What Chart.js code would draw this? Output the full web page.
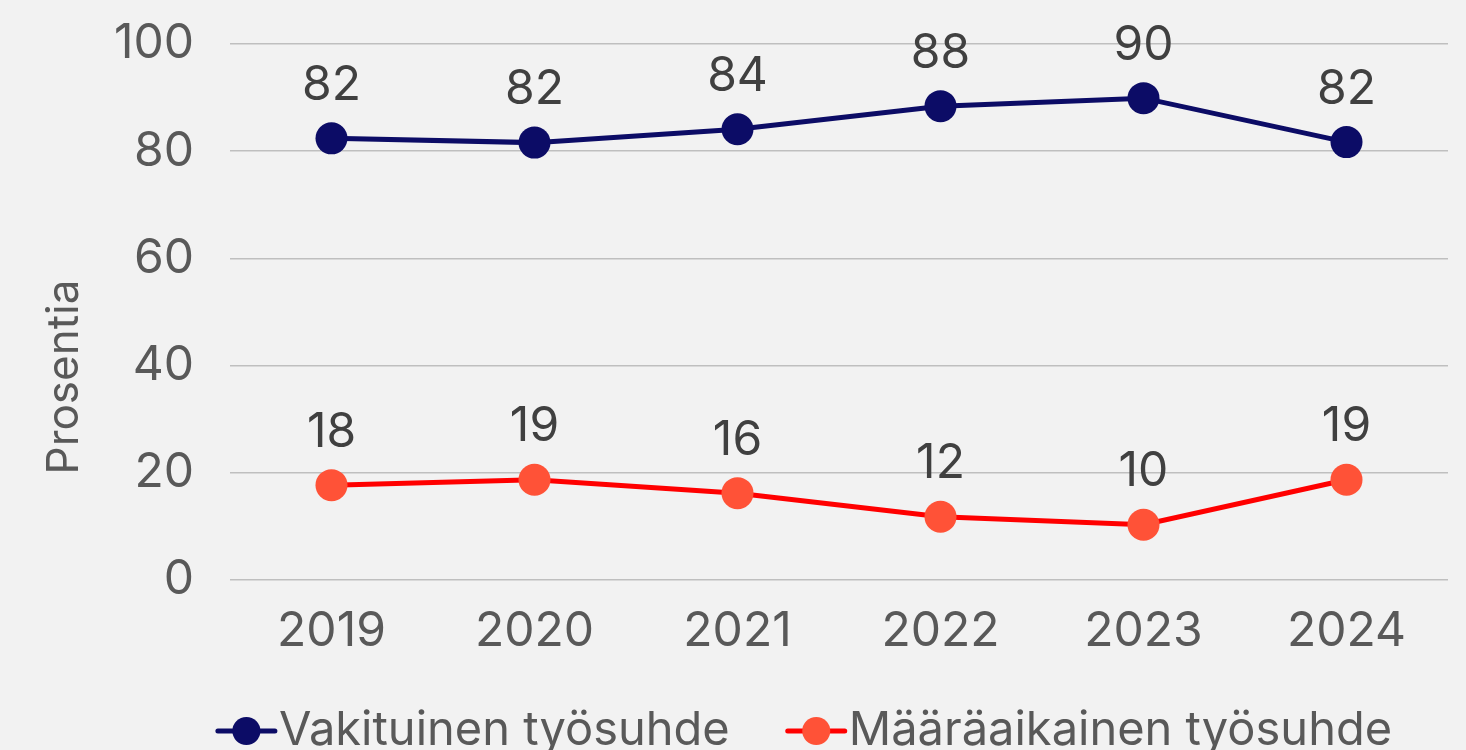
<!DOCTYPE html>
<html>
<head>
<meta charset="utf-8">
<script src="https://cdn.jsdelivr.net/npm/chart.js@4.4.1/dist/chart.umd.min.js"></script>
<style>
  body { margin: 0; background: #f2f2f2; overflow: hidden; }
  canvas { display: block; }
</style>
</head>
<body>
<canvas id="chart" width="1466" height="750"></canvas>
<script>
const years = ["2019", "2020", "2021", "2022", "2023", "2024"];
const vakituinen = [82.4, 81.6, 84.1, 88.4, 89.9, 81.7];
const maaraaikainen = [17.7, 18.7, 16.2, 11.8, 10.3, 18.7];
const yTicks = [0, 20, 40, 60, 80, 100];
const seriesNames = ["Vakituinen työsuhde", "Määräaikainen työsuhde"];
const yTitle = "Prosentia";

const FONT = "Inter, 'DejaVu Sans', sans-serif";
const TEXT = "#595959";

// value labels above each point
const valueLabels = {
    id: "valueLabels",
    afterDatasetsDraw(chart) {
        const ctx = chart.ctx;
        ctx.save();
        ctx.font = "48px " + FONT;
        ctx.fillStyle = "#404040";
        ctx.textAlign = "center";
        ctx.textBaseline = "middle";
        chart.data.datasets.forEach((ds, i) => {
            chart.getDatasetMeta(i).data.forEach((pt, j) => {
                ctx.fillText(Math.round(ds.data[j]), pt.x, pt.y - 53);
            });
        });
        ctx.restore();
    }
};

// rotated y title + legend with line marker
const extras = {
    id: "extras",
    afterDraw(chart) {
        const ctx = chart.ctx;
        ctx.save();
        ctx.fillStyle = TEXT;
        ctx.font = "44px " + FONT;
        ctx.translate(65, 377);
        ctx.rotate(-Math.PI / 2);
        ctx.textAlign = "center";
        ctx.textBaseline = "middle";
        ctx.fillText(yTitle, 0, 0);
        ctx.restore();

        ctx.save();
        ctx.font = "47px " + FONT;
        ctx.textBaseline = "middle";
        const markerW = 57, gapText = 4, gapItem = 58;
        const items = chart.data.datasets.map(ds => ({
            ds, w: markerW + gapText + ctx.measureText(ds.label).width
        }));
        const total = items.reduce((s, it) => s + it.w, 0) + gapItem * (items.length - 1);
        let x = 805 - total / 2;
        const y = 731;
        items.forEach(it => {
            ctx.strokeStyle = it.ds.borderColor;
            ctx.lineWidth = 5;
            ctx.lineCap = "round";
            ctx.beginPath();
            ctx.moveTo(x, y);
            ctx.lineTo(x + markerW, y);
            ctx.stroke();
            ctx.fillStyle = it.ds.pointBackgroundColor;
            ctx.beginPath();
            ctx.arc(x + markerW / 2, y, 14, 0, Math.PI * 2);
            ctx.fill();
            ctx.fillStyle = TEXT;
            ctx.textAlign = "left";
            ctx.fillText(it.ds.label, x + markerW + gapText, y);
            x += it.w + gapItem;
        });
        ctx.restore();
    }
};

new Chart(document.getElementById("chart"), {
    type: "line",
    data: {
        labels: years,
        datasets: [
            {
                label: seriesNames[0],
                data: vakituinen,
                borderColor: "#0c0c66",
                backgroundColor: "#0c0c66",
                pointBackgroundColor: "#0c0c66",
                pointBorderWidth: 0,
                pointRadius: 16,
                borderWidth: 5,
                tension: 0
            },
            {
                label: seriesNames[1],
                data: maaraaikainen,
                borderColor: "#ff0000",
                backgroundColor: "#ff5237",
                pointBackgroundColor: "#ff5237",
                pointBorderWidth: 0,
                pointRadius: 16,
                borderWidth: 5,
                tension: 0
            }
        ]
    },
    options: {
        responsive: false,
        animation: false,
        layout: { padding: { top: 44, right: 18, left: 0, bottom: 0 } },
        plugins: {
            legend: { display: false },
            tooltip: { enabled: false }
        },
        scales: {
            x: {
                offset: true,
                grid: { display: false },
                border: { display: false },
                ticks: {
                    color: TEXT,
                    font: { family: FONT, size: 48 },
                    padding: 15,
                    maxRotation: 0
                },
                afterFit(scale) {
                    scale.height = 170;
                    scale.paddingLeft = 0;
                    scale.paddingRight = 0;
                }
            },
            y: {
                min: 0,
                max: 100,
                afterBuildTicks(scale) { scale.ticks = yTicks.map(v => ({ value: v })); },
                grid: { color: "#bfbfbf", lineWidth: 1.5, drawTicks: false },
                border: { display: false },
                ticks: {
                    color: TEXT,
                    font: { family: FONT, size: 48 },
                    padding: 36
                },
                afterFit(scale) {
                    scale.width = 230;
                    scale.paddingTop = 0;
                    scale.paddingBottom = 0;
                }
            }
        }
    },
    plugins: [valueLabels, extras]
});
</script>
</body>
</html>
